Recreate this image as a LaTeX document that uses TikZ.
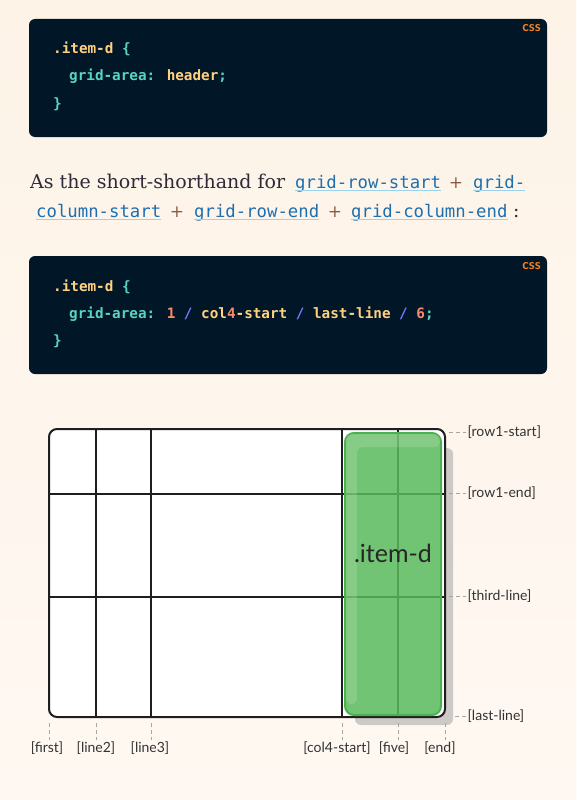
\documentclass[tikz,border=0pt]{standalone}
\usepackage{fontspec}
\setmainfont{DejaVu Serif}
\newfontfamily\codefont{DejaVu Sans Mono}
\newfontfamily\tagfont{Lato}
\usetikzlibrary{positioning}

\definecolor{pagetop}{HTML}{FDF3E7}
\definecolor{pagebottom}{HTML}{FFF8F2}
\definecolor{codebg}{HTML}{011627}
\definecolor{cssorange}{HTML}{F5821F}
\definecolor{selyellow}{HTML}{FFD27F}
\definecolor{propteal}{HTML}{58D4C4}
\definecolor{numred}{HTML}{F78C6C}
\definecolor{slashpurple}{HTML}{7E75FF}
\definecolor{inkdark}{HTML}{2E2A38}
\definecolor{linkblue}{HTML}{1D6FAF}
\definecolor{linkline}{HTML}{9AD3EE}
\definecolor{plusbrown}{HTML}{8A5A3A}
\definecolor{gridink}{HTML}{1E1E1E}
\definecolor{itemgreen}{HTML}{59BA5B}
\definecolor{itemedge}{HTML}{4CB050}
\definecolor{shadowgray}{HTML}{CCC9C6}
\definecolor{tagink}{HTML}{333333}

\begin{document}
\begin{tikzpicture}[x=1pt,y=-1pt,
	codebox/.style={rectangle, rounded corners=6pt, fill=codebg, minimum width=518pt, minimum height=118pt, inner sep=0pt},
	codeline/.style={anchor=base west, inner sep=0pt, font=\codefont\bfseries\fontsize{14.3pt}{16pt}\selectfont},
	csstag/.style={anchor=base east, inner sep=0pt, text=cssorange, font=\tagfont\bfseries\fontsize{13.5pt}{14pt}\selectfont},
	prose/.style={anchor=base west, inner sep=0pt, text=inkdark, font=\fontsize{19pt}{23pt}\selectfont},
	inlinecode/.style={anchor=base west, inner sep=0pt, text=linkblue, font=\codefont\fontsize{17.3pt}{20pt}\selectfont},
	plussign/.style={anchor=base, inner sep=0pt, text=plusbrown, font=\fontsize{17pt}{20pt}\selectfont},
	underline/.style={draw=linkline, line width=1pt},
	gridline/.style={draw=gridink, line width=2pt},
	tick/.style={draw=gray!70, line width=0.6pt, dash pattern=on 4pt off 3pt},
	gridtag/.style={inner sep=1.5pt, text=tagink, font=\tagfont\fontsize{14pt}{16pt}\selectfont},
	itembox/.style={rectangle, rounded corners=9pt, fill=itemgreen, fill opacity=0.85, draw=itemedge, line width=2pt, minimum width=96pt, minimum height=282pt, inner sep=0pt},
	itemtag/.style={inner sep=0pt, text=black!85, font=\tagfont\fontsize{25pt}{28pt}\selectfont}]

	% page
	\fill[top color=pagetop, bottom color=pagebottom] (0,0) rectangle (576,800);
	\useasboundingbox (0,0) rectangle (576,800);

	% first code block
	\node[codebox](block1) at (288,78){};
	\node[csstag](lang1) at (541,32){css};
	\node[codeline](sel1) at (53,54){\color{selyellow}.item-d \color{propteal}\{};
	\node[codeline](decl1) at (69,81){\color{propteal}grid-area: \color{selyellow}header\color{propteal};};
	\node[codeline](close1) at (53,108){\color{propteal}\}};

	% text in between
	\node[prose](lead) at (30,188){As the short-shorthand for};
	\node[inlinecode](rowstart) at (295,188){grid-row-start};
	\node[plussign](plus1) at (456,188){+};
	\node[inlinecode](colstartA) at (473,188){grid-};
	\node[inlinecode](colstartB) at (36,217){column-start};
	\node[plussign](plus2) at (177,217){+};
	\node[inlinecode](rowend) at (194,217){grid-row-end};
	\node[plussign](plus3) at (335,217){+};
	\node[inlinecode](colend) at (351,217){grid-column-end};
	\node[prose](colon) at (513,217){:};
	\draw[underline] ([yshift=-2.5pt]rowstart.base west) -- ([yshift=-2.5pt]rowstart.base east);
	\draw[underline] ([yshift=-2.5pt]colstartA.base west) -- ([yshift=-2.5pt]colstartA.base east);
	\draw[underline] ([yshift=-2.5pt]colstartB.base west) -- ([yshift=-2.5pt]colstartB.base east);
	\draw[underline] ([yshift=-2.5pt]rowend.base west) -- ([yshift=-2.5pt]rowend.base east);
	\draw[underline] ([yshift=-2.5pt]colend.base west) -- ([yshift=-2.5pt]colend.base east);

	% second code block
	\node[codebox](block2) at (288,315){};
	\node[csstag](lang2) at (541,269){css};
	\node[codeline](sel2) at (53,291){\color{selyellow}.item-d \color{propteal}\{};
	\node[codeline](decl2) at (69,318){\color{propteal}grid-area: \color{numred}1 \color{slashpurple}/ \color{selyellow}col\color{numred}4\color{selyellow}-start \color{slashpurple}/ \color{selyellow}last-line \color{slashpurple}/ \color{numred}6\color{propteal};};
	\node[codeline](close2) at (53,345){\color{propteal}\}};

	% grid with the item
	\fill[shadowgray, rounded corners=6pt] (355,448) rectangle (453,725);
	\fill[white, rounded corners=8pt] (49,429) rectangle (445,717);

	\coordinate (first) at (49,717);
	\coordinate (line2) at (96,717);
	\coordinate (line3) at (151,717);
	\coordinate (col4) at (342,717);
	\coordinate (five) at (398,717);
	\coordinate (end) at (445,717);
	\coordinate (row1start) at (445,429);
	\coordinate (row1end) at (445,494);
	\coordinate (third) at (445,597);
	\coordinate (last) at (445,717);

	\draw[gridline] (line2) -- (96,429);
	\draw[gridline] (line3) -- (151,429);
	\draw[gridline] (col4) -- (342,429);
	\draw[gridline] (five) -- (398,429);
	\draw[gridline] (row1end) -- (49,494);
	\draw[gridline] (third) -- (49,597);
	\draw[gridline, rounded corners=8pt] (49,429) rectangle (445,717);

	\node[itembox](itemd) at (393,574){};
	\fill[white, fill opacity=0.15, rounded corners=6pt] (346,434) -- (440,434) -- (440,447) -- (357,447) -- (357,704) -- (346,704) -- cycle;
	\node[itemtag](itemdText) at (393,553){.item-d};

	% line names on the right
	\node[gridtag, anchor=west](row1startTag) at (466,432){[row1-start]};
	\node[gridtag, anchor=west](row1endTag) at (466,493){[row1-end]};
	\node[gridtag, anchor=west](thirdTag) at (466,596){[third-line]};
	\node[gridtag, anchor=west](lastTag) at (466,716){[last-line]};
	\draw[tick] ([xshift=4pt]row1start |- row1startTag) -- (row1startTag);
	\draw[tick] ([xshift=4pt]row1end |- row1endTag) -- (row1endTag);
	\draw[tick] ([xshift=4pt]third |- thirdTag) -- (thirdTag);
	\draw[tick] ([xshift=10pt]last |- lastTag) -- (lastTag);

	% line names below
	\node[gridtag, anchor=north](firstTag) at (47,740){[first]};
	\node[gridtag, anchor=north](line2Tag) at (96,740){[line2]};
	\node[gridtag, anchor=north](line3Tag) at (150,740){[line3]};
	\node[gridtag, anchor=north](col4Tag) at (337,740){[col4-start]};
	\node[gridtag, anchor=north](fiveTag) at (394,740){[five]};
	\node[gridtag, anchor=north](endTag) at (440,740){[end]};
	\draw[tick] ([yshift=-6pt]first) -- (first |- firstTag.north);
	\draw[tick] ([yshift=-6pt]line2) -- (line2 |- line2Tag.north);
	\draw[tick] ([yshift=-6pt]line3) -- (line3 |- line3Tag.north);
	\draw[tick] ([yshift=-6pt]col4) -- (col4 |- col4Tag.north);
	\draw[tick] ([yshift=-6pt]five) -- (five |- fiveTag.north);
	\draw[tick] ([yshift=-6pt]end) -- (end |- endTag.north);
\end{tikzpicture}
\end{document}
